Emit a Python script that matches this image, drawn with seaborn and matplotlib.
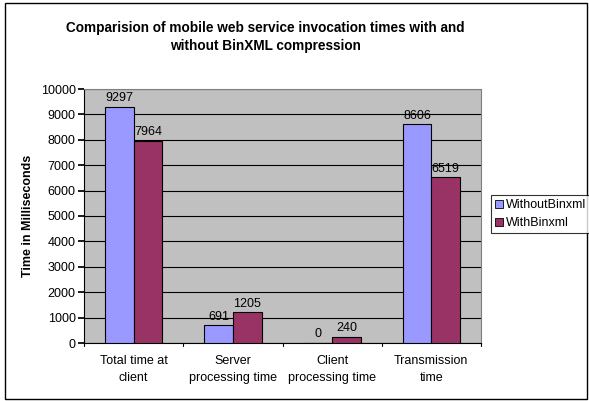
import matplotlib
matplotlib.use("Agg")
import matplotlib.pyplot as plt
import seaborn as sns
import pandas as pd
from matplotlib.patches import Rectangle

categories = ["Total time at\nclient", "Server\nprocessing time", "Client\nprocessing time", "Transmission\ntime"]
series_names = ["WithoutBinxml", "WithBinxml"]
without_vals = [9297, 691, 0, 8606]
with_vals = [7964, 1205, 240, 6519]
colors = ["#9999FF", "#993366"]

df = pd.DataFrame({
    "category": categories * 2,
    "series": [series_names[0]] * 4 + [series_names[1]] * 4,
    "value": without_vals + with_vals,
})

sns.set_theme(style="white")
plt.rcParams['font.family'] = ['Liberation Sans', 'DejaVu Sans']
plt.rcParams['text.color'] = 'black'
plt.rcParams['axes.labelcolor'] = 'black'
plt.rcParams['xtick.color'] = 'black'
plt.rcParams['ytick.color'] = 'black'

fig = plt.figure(figsize=(5.89, 4.01), dpi=100)
ax = fig.add_axes([84/589, 1-343/401, (481-84)/589, (343-89)/401])
ax.set_facecolor("#C0C0C0")

sns.barplot(data=df, x="category", y="value", hue="series", palette=colors, saturation=1,
            width=0.58, edgecolor="black", linewidth=0.8, ax=ax, legend=False, zorder=3)

for cont in ax.containers:
    ax.bar_label(cont, fmt="%d", fontsize=9, padding=2, color="black")

ax.set_ylim(0, 10000)
ax.set_yticks(range(0, 10001, 1000))
ax.set_xlim(-0.5, 3.5)
ax.yaxis.grid(True, color="black", linewidth=0.8, zorder=0)
ax.set_axisbelow(True)
ax.tick_params(axis="y", labelsize=9, length=4, direction="out", left=True, color="black", pad=2)
ax.tick_params(axis="x", labelsize=9, length=0, pad=9)
ax.set_xticks([0, 1, 2, 3])
ax.set_xticklabels(categories, linespacing=1.45)
for x in [-0.5, 0.5, 1.5, 2.5, 3.5]:
    ax.plot([x, x], [0, -120], color="black", linewidth=0.8, clip_on=False)
ax.set_xlabel("")
ax.set_ylabel("Time in Milliseconds", fontsize=9, fontweight="bold", labelpad=5)
for s in ["top", "right"]:
    ax.spines[s].set_visible(True)
    ax.spines[s].set_color("#808080")
    ax.spines[s].set_linewidth(0.8)
for s in ["left", "bottom"]:
    ax.spines[s].set_color("black")
    ax.spines[s].set_linewidth(0.8)

fig.text(0.45, 1-37/401, "Comparision of mobile web service invocation times with and\nwithout BinXML compression",
         ha="center", va="center", fontsize=9.8, fontweight="bold", linespacing=1.45)

handles = [Rectangle((0, 0), 1, 1, facecolor=c, edgecolor="black", linewidth=0.6) for c in colors]
leg = fig.legend(handles, series_names, loc="upper left", bbox_to_anchor=(491/589, 1-195/401),
                 fontsize=9, frameon=True, fancybox=False, edgecolor="black",
                 handlelength=0.6, handleheight=0.6, handletextpad=0.25, borderpad=0.35,
                 labelspacing=0.45, borderaxespad=0)
leg.get_frame().set_linewidth(0.8)

fig.patches.append(Rectangle((5/589, 2/401), 582/589, 396/401, transform=fig.transFigure,
                             fill=False, edgecolor="black", linewidth=1.0))

fig.savefig("out.png", dpi=100, facecolor="white")
